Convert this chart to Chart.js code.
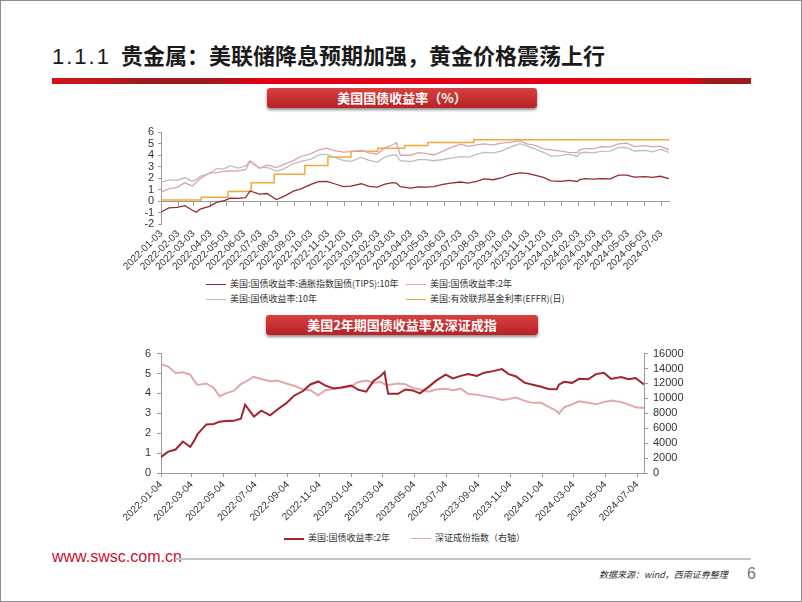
<!DOCTYPE html>
<html>
<head>
<meta charset="utf-8">
<script src="https://cdn.jsdelivr.net/npm/chart.js@4.4.1/dist/chart.umd.min.js"></script>
<style>
  body { margin: 0; background: #fff; }
  #slide { position: relative; width: 800px; height: 600px; border: 1px solid #8c8c8c; overflow: hidden;
    font-family: "Noto Sans CJK SC", sans-serif; }
  #title { position: absolute; left: 51px; top: 37px; font-size: 22px; font-weight: 700; color: #1a1a1a; white-space: nowrap; }
  #title .num { font-family: "Liberation Sans", Arial, sans-serif; font-weight: 400; letter-spacing: 2px; margin-right: 10px; }
  #bar { position: absolute; left: 51px; top: 77px; width: 699px; height: 6px;
    background: linear-gradient(90deg, #d0121b 0%, #c0161d 8%, #9c1b1f 12%, #9c1b1f 22%, #e30014 30%, #e30014 91%, #9c1b1f 94%, #9c1b1f 100%); }
  .tag { position: absolute; height: 20px; line-height: 20px; text-align: center; color: #fff; font-size: 13px; font-weight: bold;
    background: linear-gradient(#d9403f, #b82226); border-radius: 3px; box-shadow: 0 2px 3px rgba(0,0,0,0.45); }
  .chartbox { position: absolute; }
  .legend { position: absolute; font-size: 9px; color: #333; }
  .legend .item { position: absolute; white-space: nowrap; height: 12px; line-height: 12px; }
  .legend .swatch { display: inline-block; width: 20px; vertical-align: middle; margin-right: 4px; }
  #site { position: absolute; left: 51px; top: 547px; font-family: "Liberation Sans", Arial, sans-serif; font-size: 16px; color: #c8102e; }
  #rule { position: absolute; left: 174px; top: 557px; width: 576px; height: 2px; background: #c4c4c4; }
  #source { position: absolute; left: 598px; top: 567px; font-size: 9px; font-style: italic; color: #333; }
  #page { position: absolute; left: 746px; top: 564px; font-family: "Liberation Sans", Arial, sans-serif; font-size: 16px; color: #777; }
</style>
</head>
<body>
<div id="slide">
  <div id="title"><span class="num">1.1.1</span>贵金属：美联储降息预期加强，黄金价格震荡上行</div>
  <div id="bar"></div>
  <div class="tag" style="left:266px; top:87px; width:270px;">美国国债收益率（%）</div>
  <div class="chartbox" style="left:120px; top:120px;"><canvas id="c1" width="560" height="153"></canvas></div>
  <div class="legend" id="leg1" style="left:205px; top:277px;"></div>
  <div class="tag" style="left:265px; top:314px; width:272px;">美国2年期国债收益率及深证成指</div>
  <div class="chartbox" style="left:120px; top:340px;"><canvas id="c2" width="590" height="182"></canvas></div>
  <div class="legend" id="leg2" style="left:283px; top:531px;"></div>
  <div id="site">www.swsc.com.cn</div>
  <div id="rule"></div>
  <div id="source">数据来源：wind，西南证券整理</div>
  <div id="page">6</div>
</div>
<script>
// semi-monthly samples
const dates = [
  "2022-01-03","2022-01-17","2022-02-01","2022-02-15","2022-03-01","2022-03-08","2022-03-15","2022-04-01","2022-04-15","2022-04-26",
  "2022-05-09","2022-05-23","2022-06-06","2022-06-14","2022-07-01","2022-07-15","2022-08-01","2022-08-15","2022-09-01","2022-09-15",
  "2022-10-03","2022-10-17","2022-11-01","2022-11-15","2022-12-01","2022-12-15",
  "2023-01-03","2023-01-17","2023-02-01","2023-02-15","2023-03-01","2023-03-08","2023-03-15","2023-04-03","2023-04-17","2023-05-01",
  "2023-05-15","2023-06-01","2023-06-15","2023-07-03","2023-07-17","2023-08-01","2023-08-15","2023-09-01","2023-09-15","2023-10-02",
  "2023-10-19","2023-11-01","2023-11-15","2023-12-01","2023-12-15",
  "2024-01-02","2024-01-16","2024-02-01","2024-02-05","2024-02-15","2024-03-01","2024-03-15","2024-04-01","2024-04-16","2024-05-01",
  "2024-05-15","2024-06-03","2024-06-17","2024-07-01","2024-07-17"
];
const tipsYield = [
  -0.96,-0.60,-0.55,-0.40,-0.80,-0.98,-0.70,-0.47,-0.10,0.00,0.25,0.22,0.30,0.87,0.60,0.65,0.12,0.40,0.85,1.05,1.45,1.68,1.70,1.50,1.25,1.30,
  1.50,1.27,1.20,1.47,1.60,1.55,1.25,1.12,1.23,1.20,1.25,1.45,1.56,1.65,1.55,1.70,1.93,1.85,2.00,2.30,2.45,2.40,2.25,2.05,1.75,
  1.70,1.80,1.70,1.85,1.95,1.90,1.95,1.93,2.25,2.25,2.08,2.12,2.05,2.15,1.95
];
const y2Yield = [
  0.78,1.06,1.18,1.58,1.31,1.60,1.95,2.44,2.46,2.58,2.61,2.62,2.73,3.43,2.84,3.13,2.90,3.19,3.51,3.87,4.12,4.45,4.60,4.39,4.25,4.30,
  4.40,4.18,4.09,4.62,4.89,5.07,3.98,3.98,4.20,4.15,4.00,4.34,4.64,4.94,4.75,4.88,4.97,4.88,5.04,5.12,5.22,4.97,4.85,4.54,4.45,
  4.33,4.22,4.21,4.44,4.58,4.53,4.73,4.71,4.97,5.04,4.73,4.82,4.71,4.77,4.45
];
const y10Yield = [
  1.63,1.83,1.80,2.04,1.72,1.85,2.15,2.39,2.83,2.77,3.05,2.86,3.04,3.48,2.88,2.93,2.60,2.79,3.26,3.45,3.65,4.01,4.05,3.80,3.53,3.45,
  3.79,3.53,3.39,3.81,4.01,3.98,3.51,3.43,3.60,3.59,3.50,3.61,3.72,3.86,3.81,4.05,4.22,4.18,4.33,4.68,4.98,4.79,4.53,4.22,3.91,
  3.95,4.07,3.87,4.16,4.24,4.19,4.31,4.33,4.67,4.63,4.35,4.40,4.28,4.48,4.23
];
const szIndex = [
  14600,14300,13400,13500,13200,12400,11800,12000,11400,10300,10700,11000,11900,12200,12900,12600,12300,12400,12000,11700,11200,11100,10400,11100,11300,11400,
  11600,12200,12400,12100,12200,11900,11800,12000,11900,11400,11200,10900,11200,11300,11100,11300,10600,10500,10300,10100,9800,9900,10100,9700,9400,
  9400,8900,8300,7950,8800,9200,9600,9400,9200,9500,9700,9500,9200,8800,8700
];
const effrDates = ["2022-01-03","2022-03-17","2022-05-05","2022-06-16","2022-07-28","2022-09-22","2022-11-03","2022-12-15",
  "2023-02-02","2023-03-23","2023-05-04","2023-07-27","2024-07-17"];
const effrRate = [0.08,0.33,0.83,1.58,2.33,3.08,3.83,4.33,4.58,4.83,5.08,5.33,5.33];

const ticks1 = [
  "2022-01-03","2022-02-03","2022-03-03","2022-04-03","2022-05-03","2022-06-03","2022-07-03","2022-08-03","2022-09-03","2022-10-03",
  "2022-11-03","2022-12-03","2023-01-03","2023-02-03","2023-03-03","2023-04-03","2023-05-03","2023-06-03","2023-07-03","2023-08-03",
  "2023-09-03","2023-10-03","2023-11-03","2023-12-03","2024-01-03","2024-02-03","2024-03-03","2024-04-03","2024-05-03","2024-06-03",
  "2024-07-03"
];
const ticks2 = [
  "2022-01-04","2022-03-04","2022-05-04","2022-07-04","2022-09-04","2022-11-04","2023-01-04","2023-03-04","2023-05-04","2023-07-04",
  "2023-09-04","2023-11-04","2024-01-04","2024-03-04","2024-05-04","2024-07-04"
];

function dayNum(s) { return Date.parse(s) / 86400000; }
function dayStr(v) { return new Date(Math.round(v) * 86400000).toISOString().slice(0, 10); }
function pairs(xs, ys) { return xs.map((d, i) => ({ x: dayNum(d), y: ys[i] })); }

Chart.defaults.font.family = '"Liberation Sans", Arial, sans-serif';
Chart.defaults.color = "#333";
const AXIS = "#9a9a9a";
const endDay = dayNum(dates[dates.length - 1]);

function lineSet(label, data, color, width, extra) {
  return Object.assign({ label: label, data: data, borderColor: color, backgroundColor: color, borderWidth: width,
    pointRadius: 0, tension: 0, fill: false }, extra || {});
}

const chart1 = new Chart(document.getElementById("c1"), {
  type: "line",
  data: {
    datasets: [
      lineSet("美国:国债收益率:通胀指数国债(TIPS):10年", pairs(dates, tipsYield), "#962a33", 1.3),
      lineSet("美国:国债收益率:2年", pairs(dates, y2Yield), "#dca4a9", 1.3),
      lineSet("美国:国债收益率:10年", pairs(dates, y10Yield), "#bdbdbd", 1.3),
      lineSet("美国:有效联邦基金利率(EFFR)(日)", pairs(effrDates, effrRate), "#f2a93b", 1.5, { stepped: true }),
    ],
  },
  options: {
    responsive: false,
    animation: false,
    devicePixelRatio: 1,
    layout: { padding: { top: 11, right: 12, left: 0, bottom: 0 } },
    plugins: { legend: { display: false }, tooltip: { enabled: false } },
    scales: {
      x: {
        type: "linear", position: "bottom", min: dayNum(ticks1[0]), max: endDay,
        grid: { display: false, drawTicks: false },
        border: { display: false },
        afterBuildTicks: (s) => { s.ticks = ticks1.map((d) => ({ value: dayNum(d) })); },
        afterFit: (s) => { s.height = 50; },
        ticks: { autoSkip: false, minRotation: 45, maxRotation: 45, padding: 4, font: { size: 10 }, callback: (v) => dayStr(v) },
      },
      x0: {
        type: "linear", position: { y: 0 }, min: dayNum(ticks1[0]), max: endDay,
        grid: { drawOnChartArea: false, drawTicks: true, tickLength: 4, color: AXIS },
        border: { display: true, color: AXIS },
        afterBuildTicks: (s) => { s.ticks = ticks1.map((d) => ({ value: dayNum(d) })); },
        ticks: { display: false },
      },
      y: {
        min: -2, max: 6,
        grid: { drawOnChartArea: false, drawTicks: true, tickLength: 3, color: AXIS },
        border: { color: AXIS },
        afterFit: (s) => { s.width = 40; },
        ticks: { stepSize: 1, autoSkip: false, padding: 4, font: { size: 11 }, callback: (v) => String(v) },
      },
    },
  },
});

const chart2 = new Chart(document.getElementById("c2"), {
  type: "line",
  data: {
    datasets: [
      lineSet("美国:国债收益率:2年", pairs(dates, y2Yield), "#a3222c", 2, { yAxisID: "y" }),
      lineSet("深证成份指数（右轴）", pairs(dates, szIndex), "#e3a6ab", 2, { yAxisID: "y1" }),
    ],
  },
  options: {
    responsive: false,
    animation: false,
    devicePixelRatio: 1,
    layout: { padding: { top: 11, right: 0, left: 0, bottom: 0 } },
    plugins: { legend: { display: false }, tooltip: { enabled: false } },
    scales: {
      x: {
        type: "linear", position: "bottom", min: dayNum(ticks2[0]), max: endDay,
        grid: { drawOnChartArea: false, drawTicks: true, tickLength: 4, color: AXIS },
        border: { color: AXIS },
        afterBuildTicks: (s) => { s.ticks = ticks2.map((d) => ({ value: dayNum(d) })); },
        afterFit: (s) => { s.height = 50; },
        ticks: { autoSkip: false, minRotation: 45, maxRotation: 45, padding: 2, font: { size: 10 }, callback: (v) => dayStr(v) },
      },
      y: {
        position: "left", min: 0, max: 6,
        grid: { drawOnChartArea: false, drawTicks: true, tickLength: 4, color: AXIS },
        border: { color: AXIS },
        afterFit: (s) => { s.width = 40; },
        ticks: { stepSize: 1, autoSkip: false, padding: 6, font: { size: 11 }, callback: (v) => String(v) },
      },
      y1: {
        position: "right", min: 0, max: 16000,
        grid: { drawOnChartArea: false, drawTicks: true, tickLength: 4, color: AXIS },
        border: { color: AXIS },
        afterFit: (s) => { s.width = 67; },
        ticks: { stepSize: 2000, autoSkip: false, padding: 5, font: { size: 11 }, callback: (v) => String(v) },
      },
    },
  },
});

// html legends built from the datasets
function buildLegend(chart, el, cols, rowH, colW, thick) {
  chart.data.datasets.forEach((ds, i) => {
    const item = document.createElement("div");
    item.className = "item";
    item.style.left = (i % cols) * colW + "px";
    item.style.top = Math.floor(i / cols) * rowH + "px";
    const sw = document.createElement("span");
    sw.className = "swatch";
    sw.style.borderTop = (thick ? thick[i] : 1.5) + "px solid " + ds.borderColor;
    item.appendChild(sw);
    item.appendChild(document.createTextNode(ds.label));
    el.appendChild(item);
  });
}
buildLegend(chart1, document.getElementById("leg1"), 2, 15, 200);
buildLegend(chart2, document.getElementById("leg2"), 2, 15, 127, [2.5, 1.5]);
</script>
</body>
</html>
